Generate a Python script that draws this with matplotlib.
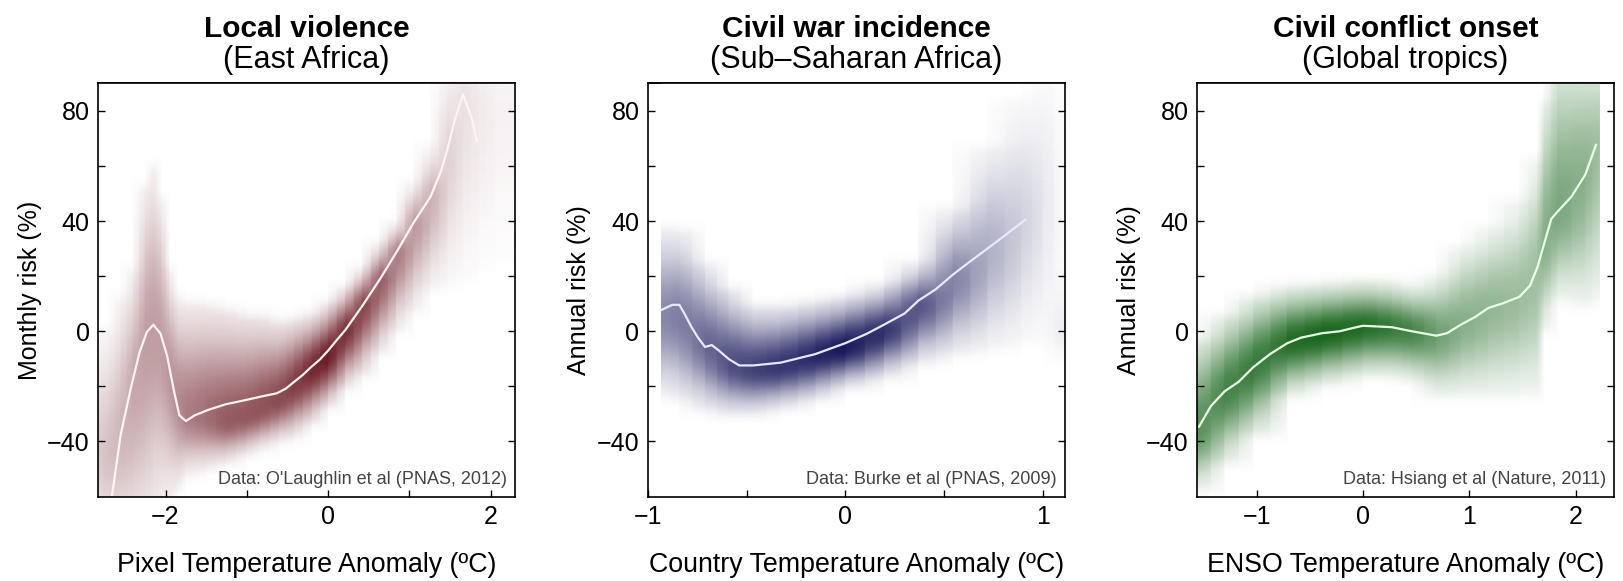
import numpy as np
import matplotlib
matplotlib.use("Agg")
import matplotlib.pyplot as plt
from matplotlib.colors import LinearSegmentedColormap

plt.rcParams['font.family'] = ['Liberation Sans', 'DejaVu Sans']

# --- local violence, East Africa ---
p1_line_x = [-2.66, -2.55, -2.42, -2.32, -2.23, -2.15, -2.06, -1.98, -1.89, -1.83, -1.75,
             -1.64, -1.47, -1.26, -1.05, -0.84, -0.63, -0.52, -0.42, -0.31, -0.21, -0.1,
             0.0, 0.1, 0.21, 0.42, 0.63, 0.84, 1.05, 1.26, 1.39, 1.47, 1.56, 1.66, 1.77, 1.83]
p1_line_y = [-60, -37.3, -19.8, -7.7, -0.3, 2.4, -0.9, -9, -22.5, -30.5, -32.6,
             -30.5, -28.5, -26.5, -25.2, -23.8, -22.5, -20.8, -18.4, -15.8, -13, -10.2,
             -7, -3.4, 0.4, 9.2, 18.6, 28.7, 39.4, 48.9, 58.3, 66.4, 77.1, 86, 77, 69]
p1_band_x = [-2.83, -2.7, -2.55, -2.4, -2.25, -2.15, -2.05, -1.95, -1.85, -1.75, -1.5,
             -1.26, -1.0, -0.84, -0.6, -0.42, -0.2, 0.0, 0.21, 0.42, 0.63, 0.84, 1.05,
             1.26, 1.47, 1.66, 1.85, 2.05, 2.3]
p1_band_mid = [-45, -45, -37, -20, -5, 0, -5, -15, -25, -30, -31,
               -33, -31, -29, -25, -20, -14, -9, 0, 9, 18, 28, 38,
               48, 62, 80, 80, 80, 80]
p1_band_hi = [-2, -2, 10, 20, 50, 57, 45, 20, 10, 8, 7,
              5, 3, 3, 1, 2, 4, 8, 14, 21, 30, 38, 52,
              65, 95, 110, 110, 110, 110]
p1_band_lo = [-75, -75, -75, -75, -70, -65, -60, -58, -55, -50, -48,
              -46, -43, -41, -38, -36, -31, -25, -18, -13, -5, 3, 10,
              18, 20, 22, 25, 28, 30]
p1_band_ink = [0.22, 0.27, 0.32, 0.38, 0.42, 0.42, 0.42, 0.45, 0.5, 0.55, 0.62,
               0.7, 0.72, 0.74, 0.78, 0.84, 0.94, 1.0, 0.92, 0.82, 0.72, 0.58, 0.45,
               0.35, 0.2, 0.13, 0.09, 0.06, 0.05]

# --- civil war incidence, Sub-Saharan Africa ---
p2_line_x = [-0.93, -0.876, -0.84, -0.815, -0.78, -0.746, -0.71, -0.676, -0.64, -0.59,
             -0.537, -0.467, -0.328, -0.153, 0.0, 0.108, 0.195, 0.3, 0.37, 0.456,
             0.544, 0.63, 0.718, 0.805, 0.89, 0.91]
p2_line_y = [7.8, 9.6, 9.6, 6.5, 1.7, -2.3, -5.7, -5, -7, -10.1,
             -12.4, -12.4, -11.4, -8.3, -4.3, -0.9, 2.4, 6.5, 11.2, 15.2,
             20.6, 25.3, 30, 34.7, 39.4, 40.5]
p2_band_x = [-0.93, -0.84, -0.71, -0.59, -0.47, -0.33, -0.15, 0.0, 0.195, 0.37,
             0.544, 0.72, 0.89, 1.0, 1.11]
p2_band_mid = [5, 5, -5, -12, -14, -13, -9, -6, 0, 9, 18, 28, 38, 45, 0]
p2_band_hi = [35, 34, 22, 13, 7, 6.5, 8.5, 10.5, 15, 23, 42, 64, 81, 95, 20]
p2_band_lo = [-20, -22, -26, -28, -28, -26, -22.5, -18.4, -14.4, -9, -5.7, -3.6, -1, -1, -10]
p2_band_ink = [0.5, 0.55, 0.65, 0.75, 0.8, 0.86, 0.93, 1.0, 0.9, 0.75, 0.55, 0.35, 0.2, 0.1, 0.08]

# --- civil conflict onset, global tropics ---
p3_line_x = [-1.54, -1.43, -1.30, -1.17, -1.03, -0.874, -0.71, -0.58, -0.385, -0.22,
             -0.06, 0.0, 0.27, 0.46, 0.59, 0.69, 0.79, 0.92, 1.05, 1.18, 1.31,
             1.47, 1.57, 1.64, 1.70, 1.77, 1.83, 1.96, 2.09, 2.19]
p3_line_y = [-34.6, -27.2, -21.8, -18.4, -13, -8.3, -4.3, -2.3, -0.7, 0,
             1.5, 2, 1.5, 0, -0.9, -1.6, -0.7, 2.4, 5.1, 8.5, 10.1,
             12.5, 16.6, 23.3, 31.4, 40.8, 43.5, 48.9, 56.9, 67.7]
p3_band_x = [-1.56, -1.30, -1.03, -0.71, -0.385, 0.0, 0.27, 0.46, 0.69, 0.92,
             1.18, 1.47, 1.64, 1.70, 1.83, 2.09, 2.22]
p3_band_mid = [-36, -22, -13, -4, -1, 2, 1.5, 0, -1.6, 2.4, 8.5, 12.5, 23, 31, 43.5, 57, 68]
p3_band_hi = [-6, 3, 10, 14, 15, 16.6, 16, 14.5, 18, 28, 35, 45, 60, 80, 100, 100, 100]
p3_band_lo = [-55, -45, -35, -21, -17, -13.7, -14, -15.7, -21, -21, -21, -20.5, -20, 3, 15, 12.5, 16]
p3_band_ink = [0.75, 0.82, 0.88, 0.95, 1.0, 0.95, 0.85, 0.8, 0.62, 0.52, 0.47, 0.42, 0.42, 0.52, 0.58, 0.5, 0.4]

titles = ['Local violence', 'Civil war incidence', 'Civil conflict onset']
regions = ['(East Africa)', '(Sub\u2013Saharan Africa)', '(Global tropics)']
xlabels = ['Pixel Temperature Anomaly (\u00baC)', 'Country Temperature Anomaly (\u00baC)',
           'ENSO Temperature Anomaly (\u00baC)']
ylabels = ['Monthly risk (%)', 'Annual risk (%)', 'Annual risk (%)']
credits = ["Data: O'Laughlin et al (PNAS, 2012)", 'Data: Burke et al (PNAS, 2009)',
           'Data: Hsiang et al (Nature, 2011)']
xlims = [(-2.83, 2.30), (-1.0, 1.11), (-1.56, 2.36)]
bottom_ticks = [[-2, -1, 0, 1, 2], [-1, -0.5, 0, 0.5, 1], [-1, 0, 1, 2]]
bottom_labels = [['\u22122', '', '0', '', '2'], ['\u22121', '', '0', '', '1'],
                 ['\u22121', '0', '1', '2']]
top_ticks = [[-2, -1, 0, 1, 2], [-0.8, -0.4, 0, 0.4, 0.8], [-1, 0, 1, 2]]
y_ticks = [-40, -20, 0, 20, 40, 60, 80]
y_labels = ['\u221240', '', '0', '', '40', '', '80']
shade_colors = ['#6a1822', '#16165a', '#18661c']
line_colors = ['#fff4f4', '#e8e8ff', '#eaffea']

panels = [
    (p1_line_x, p1_line_y, p1_band_x, p1_band_mid, p1_band_hi, p1_band_lo, p1_band_ink),
    (p2_line_x, p2_line_y, p2_band_x, p2_band_mid, p2_band_hi, p2_band_lo, p2_band_ink),
    (p3_line_x, p3_line_y, p3_band_x, p3_band_mid, p3_band_hi, p3_band_lo, p3_band_ink),
]


def watercolor(ax, bx, mid, hi, lo, ink, color):
    # vertical density profile at each knot, blended between knots by gouraud shading
    bx, mid, hi, lo, ink = map(np.asarray, (bx, mid, hi, lo, ink))
    yy = np.linspace(-65, 95, 700)
    X, Y = np.meshgrid(bx, yy)
    d = Y - mid
    sig = np.where(d > 0, hi - mid, mid - lo) / 1.8
    C = np.exp(-0.5 * (d / sig) ** 2) * ink
    # soft taper past the band edges
    over = np.clip(Y - hi, 0, None) + np.clip(lo - Y, 0, None)
    C *= np.exp(-(over / 4.0) ** 2)
    cmap = LinearSegmentedColormap.from_list('wc', ['white', color])
    ax.pcolormesh(X, Y, C, shading='gouraud', cmap=cmap, vmin=0, vmax=1)


fig = plt.figure(figsize=(16.23, 5.81), dpi=100)
lefts = [0.0604, 0.3991, 0.7375]

for i, (lx, ly, bx, mid, hi, lo, ink) in enumerate(panels):
    ax = fig.add_axes([lefts[i], 0.1454, 0.257, 0.711])
    watercolor(ax, bx, mid, hi, lo, ink, shade_colors[i])
    ax.plot(lx, ly, color=line_colors[i], lw=1.6, solid_joinstyle='round')

    ax.set_xlim(*xlims[i])
    ax.set_ylim(-60, 90)
    ax.set_xticks(bottom_ticks[i])
    ax.set_xticklabels(bottom_labels[i])
    ax.set_yticks(y_ticks)
    ax.set_yticklabels(y_labels)
    ax.tick_params(direction='in', length=5, width=1, labelsize=18, pad=6,
                   right=True, top=False)
    top = ax.secondary_xaxis('top')
    top.set_xticks(top_ticks[i])
    top.tick_params(direction='in', length=5, width=1, labeltop=False)
    for sp in ax.spines.values():
        sp.set_linewidth(1.2)
    top.spines['top'].set_linewidth(1.2)

    ax.set_xlabel(xlabels[i], fontsize=19.3)
    ax.set_ylabel(ylabels[i], fontsize=18)
    ax.xaxis.set_label_coords(0.5, -0.134)
    ax.yaxis.set_label_coords(-0.135, 0.5)

    ax.text(0.5, 1.131, titles[i], transform=ax.transAxes, ha='center', va='center',
            fontsize=21.5, fontweight='bold')
    ax.text(0.5, 1.057, regions[i], transform=ax.transAxes, ha='center', va='center',
            fontsize=22)
    ax.text(0.98, 0.02, credits[i], transform=ax.transAxes, ha='right', va='bottom',
            fontsize=13, color='#444444')

fig.savefig('out.png', dpi=100)
